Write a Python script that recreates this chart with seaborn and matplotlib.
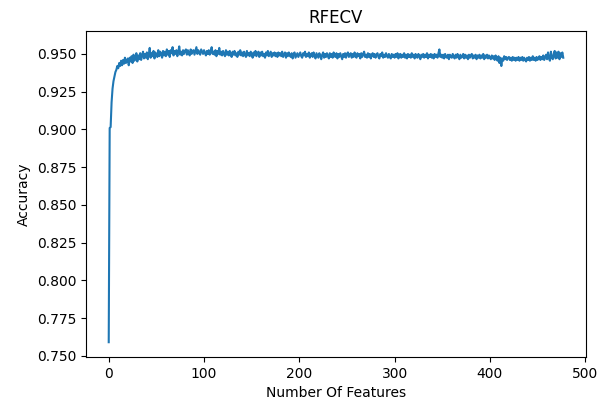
import matplotlib
matplotlib.use("Agg")
import matplotlib.pyplot as plt
import seaborn as sns
import pandas as pd

n_features = list(range(0, 478))
accuracy = [
    0.7590, 0.9010, 0.9015, 0.9180, 0.9270, 0.9320, 0.9350, 0.9380, 0.9395, 0.9420,
    0.9405, 0.9440, 0.9420, 0.9455, 0.9425, 0.9460, 0.9435, 0.9475, 0.9440, 0.9450,
    0.9470, 0.9425, 0.9475, 0.9450, 0.9485, 0.9440, 0.9495, 0.9455, 0.9475, 0.9505,
    0.9450, 0.9490, 0.9465, 0.9505, 0.9460, 0.9490, 0.9515, 0.9470, 0.9500, 0.9475,
    0.9510, 0.9465, 0.9495, 0.9540, 0.9475, 0.9505, 0.9485, 0.9520, 0.9470, 0.9510,
    0.9495, 0.9480, 0.9525, 0.9485, 0.9515, 0.9500, 0.9475, 0.9520, 0.9490, 0.9515,
    0.9485, 0.9530, 0.9495, 0.9520, 0.9480, 0.9525, 0.9505, 0.9545, 0.9490, 0.9520,
    0.9500, 0.9525, 0.9485, 0.9515, 0.9550, 0.9495, 0.9515, 0.9490, 0.9525, 0.9500,
    0.9520, 0.9530, 0.9495, 0.9525, 0.9505, 0.9490, 0.9530, 0.9500, 0.9520, 0.9525,
    0.9495, 0.9520, 0.9545, 0.9500, 0.9525, 0.9505, 0.9495, 0.9530, 0.9515, 0.9500,
    0.9525, 0.9505, 0.9490, 0.9520, 0.9500, 0.9525, 0.9495, 0.9515, 0.9545, 0.9500,
    0.9515, 0.9495, 0.9525, 0.9485, 0.9520, 0.9500, 0.9540, 0.9495, 0.9515, 0.9490,
    0.9520, 0.9500, 0.9485, 0.9525, 0.9495, 0.9515, 0.9490, 0.9520, 0.9495, 0.9480,
    0.9515, 0.9495, 0.9520, 0.9490, 0.9505, 0.9480, 0.9515, 0.9495, 0.9525, 0.9490,
    0.9510, 0.9485, 0.9515, 0.9495, 0.9480, 0.9520, 0.9490, 0.9505, 0.9485, 0.9515,
    0.9500, 0.9475, 0.9510, 0.9490, 0.9520, 0.9485, 0.9500, 0.9515, 0.9480, 0.9510,
    0.9490, 0.9515, 0.9485, 0.9500, 0.9475, 0.9510, 0.9490, 0.9520, 0.9485, 0.9500,
    0.9515, 0.9480, 0.9505, 0.9490, 0.9510, 0.9485, 0.9505, 0.9480, 0.9510, 0.9490,
    0.9505, 0.9485, 0.9515, 0.9480, 0.9495, 0.9510, 0.9475, 0.9505, 0.9485, 0.9510,
    0.9490, 0.9480, 0.9505, 0.9470, 0.9500, 0.9510, 0.9475, 0.9490, 0.9505, 0.9480,
    0.9495, 0.9510, 0.9485, 0.9475, 0.9505, 0.9490, 0.9515, 0.9480, 0.9500, 0.9485,
    0.9510, 0.9475, 0.9495, 0.9505, 0.9480, 0.9510, 0.9485, 0.9470, 0.9505, 0.9490,
    0.9475, 0.9505, 0.9490, 0.9465, 0.9495, 0.9510, 0.9475, 0.9500, 0.9480, 0.9505,
    0.9485, 0.9470, 0.9505, 0.9480, 0.9500, 0.9475, 0.9510, 0.9485, 0.9480, 0.9505,
    0.9470, 0.9500, 0.9480, 0.9505, 0.9485, 0.9465, 0.9500, 0.9480, 0.9505, 0.9475,
    0.9500, 0.9510, 0.9480, 0.9495, 0.9505, 0.9475, 0.9500, 0.9480, 0.9510, 0.9485,
    0.9475, 0.9505, 0.9485, 0.9500, 0.9470, 0.9505, 0.9480, 0.9500, 0.9515, 0.9480,
    0.9495, 0.9475, 0.9505, 0.9480, 0.9500, 0.9470, 0.9495, 0.9505, 0.9480, 0.9500,
    0.9475, 0.9495, 0.9505, 0.9480, 0.9470, 0.9500, 0.9485, 0.9510, 0.9475, 0.9495,
    0.9480, 0.9505, 0.9485, 0.9475, 0.9500, 0.9480, 0.9470, 0.9500, 0.9480, 0.9495,
    0.9475, 0.9500, 0.9480, 0.9505, 0.9470, 0.9495, 0.9500, 0.9475, 0.9495, 0.9480,
    0.9505, 0.9475, 0.9495, 0.9470, 0.9500, 0.9480, 0.9495, 0.9475, 0.9505, 0.9480,
    0.9495, 0.9470, 0.9500, 0.9480, 0.9475, 0.9500, 0.9485, 0.9465, 0.9495, 0.9480,
    0.9500, 0.9475, 0.9495, 0.9480, 0.9505, 0.9470, 0.9495, 0.9480, 0.9500, 0.9475,
    0.9495, 0.9470, 0.9500, 0.9480, 0.9495, 0.9475, 0.9505, 0.9530, 0.9480, 0.9495,
    0.9475, 0.9495, 0.9470, 0.9500, 0.9480, 0.9475, 0.9495, 0.9465, 0.9495, 0.9480,
    0.9475, 0.9500, 0.9480, 0.9470, 0.9495, 0.9475, 0.9500, 0.9480, 0.9465, 0.9495,
    0.9475, 0.9480, 0.9500, 0.9470, 0.9495, 0.9475, 0.9490, 0.9465, 0.9495, 0.9475,
    0.9490, 0.9500, 0.9470, 0.9490, 0.9475, 0.9495, 0.9465, 0.9490, 0.9475, 0.9495,
    0.9470, 0.9490, 0.9475, 0.9500, 0.9465, 0.9490, 0.9475, 0.9495, 0.9470, 0.9490,
    0.9475, 0.9465, 0.9490, 0.9470, 0.9485, 0.9460, 0.9490, 0.9470, 0.9455, 0.9485,
    0.9440, 0.9475, 0.9420, 0.9470, 0.9455, 0.9485, 0.9465, 0.9480, 0.9460, 0.9475,
    0.9480, 0.9460, 0.9475, 0.9455, 0.9480, 0.9460, 0.9475, 0.9455, 0.9475, 0.9460,
    0.9480, 0.9455, 0.9475, 0.9460, 0.9480, 0.9455, 0.9475, 0.9460, 0.9450, 0.9475,
    0.9460, 0.9480, 0.9455, 0.9475, 0.9460, 0.9485, 0.9460, 0.9475, 0.9455, 0.9480,
    0.9460, 0.9475, 0.9485, 0.9460, 0.9480, 0.9465, 0.9490, 0.9460, 0.9480, 0.9495,
    0.9465, 0.9510, 0.9470, 0.9455, 0.9515, 0.9475, 0.9465, 0.9500, 0.9520, 0.9470,
    0.9510, 0.9475, 0.9515, 0.9465, 0.9505, 0.9480, 0.9510, 0.9475,
]

df = pd.DataFrame({"Number Of Features": n_features, "Accuracy": accuracy})

fig = plt.figure(figsize=(5.98, 4.03), dpi=100)
ax = fig.add_axes([86 / 598, 1 - 357 / 403, (586 - 86) / 598, (357 - 31) / 403])
sns.lineplot(data=df, x="Number Of Features", y="Accuracy", ax=ax,
             color="#1f77b4", linewidth=1.5)
ax.set_ylim(0.7492, 0.9652)
ax.set_title("RFECV")
ax.set_xlabel("Number Of Features")
ax.set_ylabel("Accuracy")
fig.savefig("out.png", dpi=100)
